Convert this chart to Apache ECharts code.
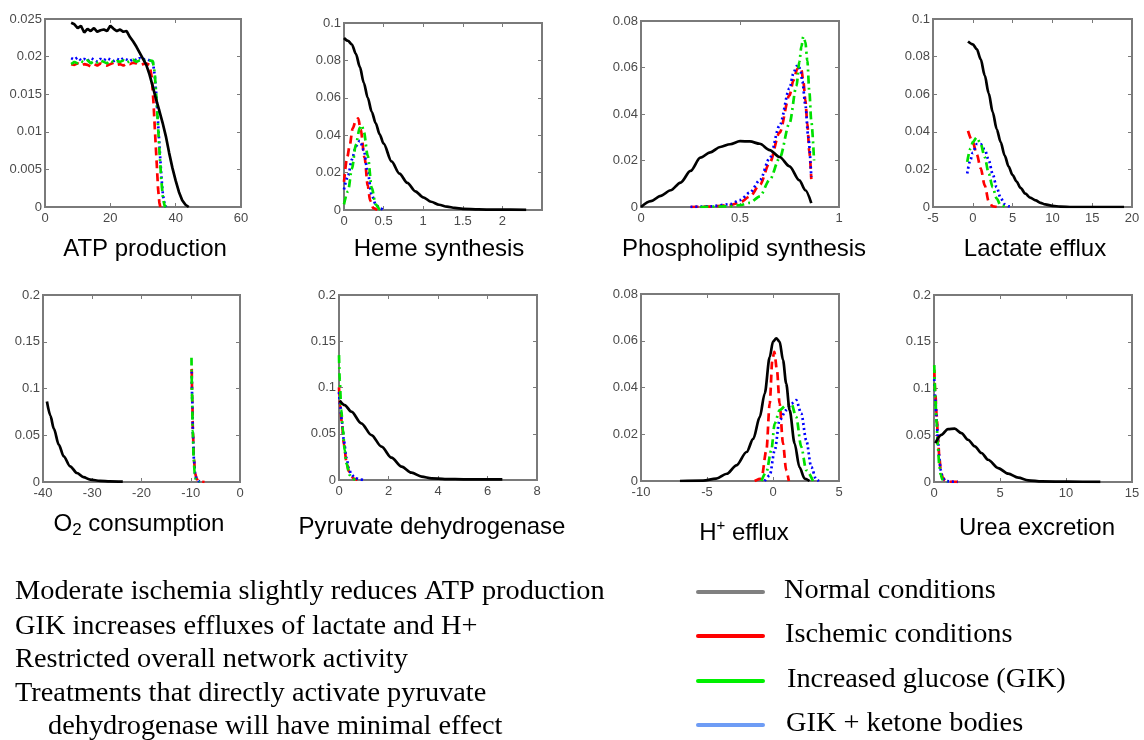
<!DOCTYPE html>
<html>
<head>
<meta charset="utf-8">
<script src="https://cdn.jsdelivr.net/npm/echarts@6/dist/echarts.min.js"></script>
<style>
  html, body { margin: 0; padding: 0; background: #fff; }
  #chart { width: 1144px; height: 740px; }
</style>
</head>
<body>
<div id="chart"></div>
<script>
// ---- Flux distributions: [flux value, probability] per condition ----

// ATP production
const atpNormal = [[8,0.0245],[9,0.0243],[10,0.0238],[11,0.0241],[12,0.0232],[13,0.0237],[14,0.0234],[15,0.0238],[16,0.0233],[17,0.0235],[18,0.0236],[19,0.0234],[20,0.0241],[21,0.0237],[22,0.0234],[23,0.0236],[24,0.0233],[25,0.0234],[26,0.0226],[27,0.0220],[28,0.0213],[29,0.0205],[30,0.0197],[31,0.0189],[32,0.0176],[33,0.0160],[34,0.0143],[35,0.0128],[36,0.0112],[37,0.0094],[38,0.0072],[39,0.0052],[40,0.0035],[41,0.0020],[42,0.0009],[43,0.0003],[44,0.0]];
const atpIschemic = [[8,0.0190],[9,0.0189],[10,0.0191],[11,0.0188],[12,0.0190],[13,0.0189],[14,0.0187],[15,0.0190],[16,0.0188],[17,0.0191],[18,0.0189],[19,0.0188],[20,0.0190],[21,0.0192],[22,0.0189],[23,0.0190],[24,0.0188],[25,0.0191],[26,0.0190],[27,0.0192],[28,0.0191],[29,0.0189],[30,0.0190],[31,0.0191],[32,0.0189],[32.7,0.0172],[33.2,0.0140],[33.7,0.0098],[34.2,0.0058],[34.6,0.0025],[35.0,0.0006],[35.3,0]];
const atpGik = [[8,0.0190],[9,0.0193],[10,0.0191],[11,0.0194],[12,0.0192],[13,0.0195],[14,0.0191],[15,0.0194],[16,0.0192],[17,0.0195],[18,0.0193],[19,0.0191],[20,0.0195],[21,0.0192],[22,0.0194],[23,0.0193],[24,0.0195],[25,0.0192],[26,0.0194],[27,0.0196],[28,0.0193],[29,0.0195],[30,0.0194],[31,0.0196],[32,0.0195],[33,0.0194],[33.6,0.0178],[34.1,0.0145],[34.6,0.0108],[35.1,0.0070],[35.6,0.0036],[36.1,0.0012],[36.6,0.0002],[37,0]];
const atpKetone = [[8,0.0198],[9,0.0196],[10,0.0199],[11,0.0195],[12,0.0197],[13,0.0194],[14,0.0198],[15,0.0196],[16,0.0193],[17,0.0197],[18,0.0195],[19,0.0198],[20,0.0196],[21,0.0194],[22,0.0197],[23,0.0195],[24,0.0198],[25,0.0196],[26,0.0194],[27,0.0197],[28,0.0195],[29,0.0198],[30,0.0196],[31,0.0197],[32,0.0195],[33,0.0193],[33.6,0.0175],[34.1,0.0148],[34.6,0.0113],[35.1,0.0077],[35.6,0.0042],[36.1,0.0016],[36.6,0.0004],[37.1,0]];

// Heme synthesis
const hemeNormal = [[0,0.092],[0.05,0.0905],[0.1,0.0885],[0.15,0.0835],[0.2,0.0765],[0.25,0.068],[0.3,0.060],[0.35,0.0525],[0.4,0.0465],[0.45,0.0405],[0.5,0.0355],[0.6,0.026],[0.7,0.0195],[0.8,0.0145],[0.9,0.0100],[1.0,0.0068],[1.1,0.0044],[1.2,0.0028],[1.3,0.0018],[1.4,0.0011],[1.5,0.0006],[1.7,0.0003],[1.9,0.0002],[2.1,0.0002],[2.3,0.0001]];
const hemeIschemic = [[0,0.015],[0.04,0.028],[0.07,0.034],[0.11,0.0436],[0.15,0.048],[0.18,0.049],[0.21,0.043],[0.26,0.028],[0.3,0.013],[0.33,0.005],[0.37,0.001],[0.42,0]];
const hemeGik = [[0,0.003],[0.05,0.010],[0.1,0.022],[0.15,0.035],[0.2,0.044],[0.225,0.0454],[0.25,0.042],[0.3,0.029],[0.35,0.012],[0.4,0.003],[0.45,0.0005],[0.5,0]];
const hemeKetone = [[0,0.011],[0.05,0.018],[0.1,0.027],[0.15,0.034],[0.2,0.037],[0.25,0.032],[0.3,0.02],[0.35,0.008],[0.4,0.003],[0.45,0.001],[0.5,0]];

// Phospholipid synthesis
const phosNormal = [[0,0],[0.05,0.0025],[0.1,0.0048],[0.15,0.0072],[0.2,0.0105],[0.25,0.0155],[0.3,0.0212],[0.35,0.0235],[0.4,0.0258],[0.45,0.027],[0.5,0.0283],[0.55,0.0282],[0.6,0.0272],[0.65,0.0245],[0.7,0.0215],[0.75,0.0175],[0.8,0.0115],[0.83,0.0072],[0.86,0.0017]];
const phosIschemic = [[0.25,0],[0.35,0.0002],[0.45,0.0008],[0.5,0.002],[0.55,0.0045],[0.6,0.0095],[0.65,0.019],[0.7,0.032],[0.75,0.048],[0.77,0.0545],[0.79,0.0595],[0.8,0.0603],[0.81,0.059],[0.82,0.054],[0.83,0.046],[0.84,0.036],[0.85,0.024],[0.86,0.012]];
const phosGik = [[0.3,0],[0.45,0.0003],[0.5,0.0008],[0.55,0.0018],[0.6,0.0046],[0.65,0.0117],[0.7,0.021],[0.75,0.036],[0.785,0.052],[0.8,0.0625],[0.81,0.069],[0.82,0.0733],[0.83,0.071],[0.84,0.063],[0.85,0.05],[0.86,0.037],[0.874,0.02]];
const phosKetone = [[0.25,0],[0.35,0.0003],[0.45,0.0012],[0.5,0.003],[0.55,0.0062],[0.6,0.0115],[0.65,0.021],[0.7,0.035],[0.75,0.051],[0.77,0.0575],[0.785,0.0605],[0.795,0.061],[0.805,0.059],[0.815,0.054],[0.83,0.044],[0.845,0.03],[0.86,0.013]];

// Lactate efflux
const lacNormal = [[-0.6,0.088],[0,0.0865],[0.5,0.084],[1,0.0785],[1.5,0.070],[2,0.0604],[2.5,0.0505],[3,0.0415],[3.5,0.0345],[4,0.0275],[4.5,0.0215],[5,0.017],[5.5,0.0135],[6,0.0102],[6.6,0.0071],[7.2,0.0050],[7.9,0.0035],[8.5,0.0022],[9.1,0.0014],[10,0.0006],[11,0.0002],[12.5,0],[15,0],[19,0]];
const lacIschemic = [[-0.6,0.0405],[0,0.0345],[0.5,0.028],[1,0.0205],[1.5,0.0115],[2,0.003],[2.5,0.0004],[3,0]];
const lacGik = [[-0.7,0.024],[-0.3,0.031],[0,0.0345],[0.5,0.037],[1,0.0335],[1.5,0.0265],[2,0.0178],[2.5,0.0105],[3,0.0045],[3.5,0.0009],[4.1,0]];
const lacKetone = [[-0.7,0.0178],[-0.3,0.025],[0,0.029],[0.5,0.0335],[1,0.0335],[1.5,0.0305],[2,0.0249],[2.5,0.0175],[3,0.0105],[3.5,0.0048],[4,0.0015],[4.5,0.0004],[5,0]];

// O2 consumption
const o2Normal = [[-39.2,0.086],[-38.5,0.071],[-37.8,0.057],[-36.8,0.040],[-35.8,0.0275],[-34.5,0.0168],[-33.1,0.0096],[-31.8,0.0053],[-30.4,0.0025],[-28.4,0.0013],[-26.4,0.0007],[-23.8,0.0004]];
const o2Ischemic = [[-9.8,0.121],[-9.7,0.09],[-9.55,0.052],[-9.35,0.024],[-9.1,0.009],[-8.8,0.0035],[-8.4,0.001],[-7.8,0.0003],[-7.2,0]];
const o2Gik = [[-9.85,0.133],[-9.75,0.095],[-9.6,0.055],[-9.4,0.025],[-9.2,0.009],[-9.0,0.003],[-8.6,0.0006],[-8.2,0]];
const o2Ketone = [[-9.8,0.118],[-9.7,0.088],[-9.55,0.05],[-9.35,0.023],[-9.1,0.0085],[-8.8,0.003],[-8.4,0.0009],[-7.8,0]];

// Pyruvate dehydrogenase
const pdhNormal = [[0.03,0.0858],[0.23,0.081],[0.5,0.0739],[0.9,0.0613],[1.31,0.0486],[1.72,0.036],[2.12,0.0241],[2.53,0.0144],[2.93,0.0079],[3.34,0.0036],[3.74,0.0018],[4.28,0.001],[5.1,0.0007],[6.6,0.0006]];
const pdhIschemic = [[0,0.1],[0.05,0.08],[0.12,0.06],[0.2,0.038],[0.3,0.02],[0.4,0.009],[0.5,0.004],[0.6,0.0015],[0.75,0]];
const pdhGik = [[0,0.135],[0.03,0.108],[0.09,0.076],[0.16,0.054],[0.23,0.032],[0.3,0.018],[0.43,0.0054],[0.55,0.0015],[0.65,0]];
const pdhKetone = [[0,0.095],[0.05,0.08],[0.12,0.062],[0.2,0.042],[0.3,0.024],[0.4,0.012],[0.5,0.006],[0.65,0.002],[0.85,0.0005],[1.0,0]];

// H+ efflux
const hNormal = [[-7.05,0],[-5.3,0.0002],[-4.3,0.001],[-3.5,0.0031],[-2.77,0.0067],[-2.0,0.0124],[-1.5,0.018],[-1.0,0.0274],[-0.63,0.0374],[-0.25,0.053],[0,0.0596],[0.25,0.061],[0.5,0.0596],[0.76,0.0517],[1.0,0.0417],[1.26,0.0303],[1.64,0.016],[2.0,0.006],[2.4,0.001],[2.77,0]];
const hIschemic = [[-1.39,0],[-0.88,0.001],[-0.5,0.0131],[-0.25,0.0331],[-0.05,0.0517],[0.1,0.0553],[0.3,0.0474],[0.5,0.0331],[0.76,0.016],[1.0,0.0046],[1.2,0]];
const hGik = [[-0.88,0],[-0.5,0.0039],[-0.13,0.0131],[0.13,0.0246],[0.5,0.0303],[1.0,0.0324],[1.39,0.0331],[1.76,0.0274],[2.14,0.0146],[2.52,0.0046],[3.03,0]];
const hKetone = [[-0.63,0],[-0.25,0.0024],[0.13,0.0131],[0.5,0.026],[1.0,0.0303],[1.39,0.0331],[1.76,0.0346],[2.14,0.0289],[2.52,0.0174],[2.9,0.006],[3.28,0.0006],[3.48,0]];

// Urea excretion
const ureaNormal = [[0.1,0.0416],[0.56,0.0505],[1.06,0.0566],[1.57,0.057],[2.08,0.0523],[2.58,0.0452],[3.09,0.0381],[3.6,0.031],[4.1,0.0238],[4.86,0.0149],[5.62,0.0089],[6.38,0.0046],[7.14,0.0018],[8.16,0.0007],[10.2,0.0003],[12.6,0.0002]];
const ureaIschemic = [[0.02,0.12],[0.1,0.095],[0.2,0.072],[0.3,0.048],[0.4,0.028],[0.5,0.014],[0.65,0.005],[0.85,0.0015],[1.2,0.0005],[2.0,0]];
const ureaGik = [[0.02,0.125],[0.1,0.09],[0.2,0.062],[0.3,0.036],[0.4,0.018],[0.5,0.008],[0.65,0.0025],[0.8,0.0006],[1.0,0]];
const ureaKetone = [[0.02,0.11],[0.1,0.088],[0.2,0.066],[0.3,0.045],[0.4,0.026],[0.5,0.013],[0.65,0.0048],[0.85,0.0014],[1.2,0.0004],[1.8,0]];

// Axis ranges per panel: [min, max, step]
const xRanges = [[0,60,20],[0,2.5,0.5],[0,1,0.5],[-5,20,5],[-40,0,10],[0,8,2],[-10,5,5],[0,15,5]];
const yRanges = [[0,0.025,0.005],[0,0.1,0.02],[0,0.08,0.02],[0,0.1,0.02],[0,0.2,0.05],[0,0.2,0.05],[0,0.08,0.02],[0,0.2,0.05]];

const conditionNames = ['Normal conditions','Ischemic conditions','Increased glucose (GIK)','GIK + ketone bodies'];
const panelSeries = [
  [atpNormal, atpIschemic, atpGik, atpKetone],
  [hemeNormal, hemeIschemic, hemeGik, hemeKetone],
  [phosNormal, phosIschemic, phosGik, phosKetone],
  [lacNormal, lacIschemic, lacGik, lacKetone],
  [o2Normal, o2Ischemic, o2Gik, o2Ketone],
  [pdhNormal, pdhIschemic, pdhGik, pdhKetone],
  [hNormal, hIschemic, hGik, hKetone],
  [ureaNormal, ureaIschemic, ureaGik, ureaKetone]
];
const panelTitles = [
  'ATP production', 'Heme synthesis', 'Phospholipid synthesis', 'Lactate efflux',
  '{m|O}{s|2}{m| consumption}', 'Pyruvate dehydrogenase', '{m|H}{p|+}{m| efflux}', 'Urea excretion'
];
const notes = [
  'Moderate ischemia slightly reduces ATP production',
  'GIK increases effluxes of lactate and H+',
  'Restricted overall network activity',
  'Treatments that directly activate pyruvate',
  'dehydrogenase will have minimal effect'
];

// ---- Layout & styling ----
const SANS = 'Liberation Sans, Arial, Helvetica, sans-serif';
const SERIF = 'Liberation Serif, Times New Roman, serif';
const BOX = '#7a7a7a';
const TICK_TEXT = '#4a4a4a';

// plot boxes: [left, top, width, height]
const boxes = [
  [45, 19, 196, 188], [344, 23, 198, 187], [641, 21, 198, 186], [933, 19, 199, 188],
  [43, 295, 197, 187], [339, 295, 198, 185], [641, 294, 198, 187], [934, 295, 198, 187]
];
const titleSpots = [[145, 249], [439, 249], [744, 249], [1035, 249], [139, 524], [432, 527], [744, 533], [1037, 528]];

const lineLook = [
  { color: '#000000', type: 'solid' },
  { color: '#ff0000', type: [8, 5] },
  { color: '#00e000', type: [8, 4, 2, 4] },
  { color: '#0000ff', type: [2, 3] }
];
const drawOrder = [0, 1, 3, 2];

const grid = [], xAxis = [], yAxis = [], series = [];
boxes.forEach((b, i) => {
  grid.push({ left: b[0], top: b[1], width: b[2], height: b[3], show: true,
              borderColor: BOX, borderWidth: 2, backgroundColor: 'transparent' });
  const [x0, x1, xs] = xRanges[i];
  const [y0, y1, ys] = yRanges[i];
  const tick = { show: true, inside: true, length: 4, lineStyle: { color: BOX, width: 1 } };
  const label = { show: true, color: TICK_TEXT, fontFamily: SANS, fontSize: 13 };
  xAxis.push({ gridIndex: i, type: 'value', position: 'bottom', min: x0, max: x1, interval: xs,
    axisLine: { show: false, onZero: false }, axisTick: tick, splitLine: { show: false },
    axisLabel: Object.assign({ margin: 5, showMaxLabel: i !== 1 }, label) });
  xAxis.push({ gridIndex: i, type: 'value', position: 'top', min: x0, max: x1, interval: xs,
    axisLine: { show: false, onZero: false }, axisTick: tick, splitLine: { show: false },
    axisLabel: { show: false } });
  yAxis.push({ gridIndex: i, type: 'value', position: 'left', min: y0, max: y1, interval: ys,
    axisLine: { show: false, onZero: false }, axisTick: tick, splitLine: { show: false },
    axisLabel: Object.assign({ margin: 3 }, label) });
  yAxis.push({ gridIndex: i, type: 'value', position: 'right', min: y0, max: y1, interval: ys,
    axisLine: { show: false, onZero: false }, axisTick: tick, splitLine: { show: false },
    axisLabel: { show: false } });
  drawOrder.forEach(k => {
    series.push({
      name: conditionNames[k], type: 'line', xAxisIndex: 2 * i, yAxisIndex: 2 * i,
      data: panelSeries[i][k], showSymbol: false, symbol: 'none',
      smooth: i === 0 ? false : 0.3, smoothMonotone: 'x',
      lineStyle: { color: lineLook[k].color, width: 2.7, type: lineLook[k].type },
      z: k === 0 ? 3 : 2
    });
  });
});

const graphic = [];
panelTitles.forEach((t, i) => {
  graphic.push({ type: 'text', x: titleSpots[i][0], y: titleSpots[i][1],
    style: { text: t, fill: '#000', font: '24px ' + SANS,
      textAlign: 'center', align: 'center', textVerticalAlign: 'middle', verticalAlign: 'middle',
      rich: {
        m: { fontSize: 24, fontFamily: SANS, fill: '#000', lineHeight: 30, verticalAlign: 'middle' },
        s: { fontSize: 17, fontFamily: SANS, fill: '#000', lineHeight: 30, verticalAlign: 'bottom' },
        p: { fontSize: 15, fontFamily: SANS, fill: '#000', lineHeight: 30, verticalAlign: 'top' }
      } } });
});

// serif notes and legend labels are set slightly wide
const WIDE = 1.05;
const noteRows = [592, 627, 660, 694, 727];
notes.forEach((t, i) => {
  graphic.push({ type: 'text', x: i === 4 ? 48 : 15, y: noteRows[i], scaleX: WIDE,
    style: { text: t, fill: '#000', font: '27px ' + SERIF,
      textAlign: 'left', align: 'left', textVerticalAlign: 'middle', verticalAlign: 'middle' } });
});

const legendColors = ['#808080', '#ff0000', '#00f000', '#6e9cf5'];
const legendRows = [592, 636, 681, 725];
const legendTextX = [784, 785, 787, 786];
conditionNames.forEach((name, i) => {
  graphic.push({ type: 'line', shape: { x1: 698, y1: legendRows[i], x2: 763, y2: legendRows[i] },
    style: { stroke: legendColors[i], lineWidth: 4, lineCap: 'round' } });
  graphic.push({ type: 'text', x: legendTextX[i], y: legendRows[i] - 1, scaleX: WIDE,
    style: { text: name, fill: '#000', font: '27px ' + SERIF,
      textAlign: 'left', align: 'left', textVerticalAlign: 'middle', verticalAlign: 'middle' } });
});

const chart = echarts.init(document.getElementById('chart'), null, { renderer: 'canvas' });
chart.setOption({
  animation: false,
  backgroundColor: '#ffffff',
  grid, xAxis, yAxis, series, graphic
});
</script>
</body>
</html>
